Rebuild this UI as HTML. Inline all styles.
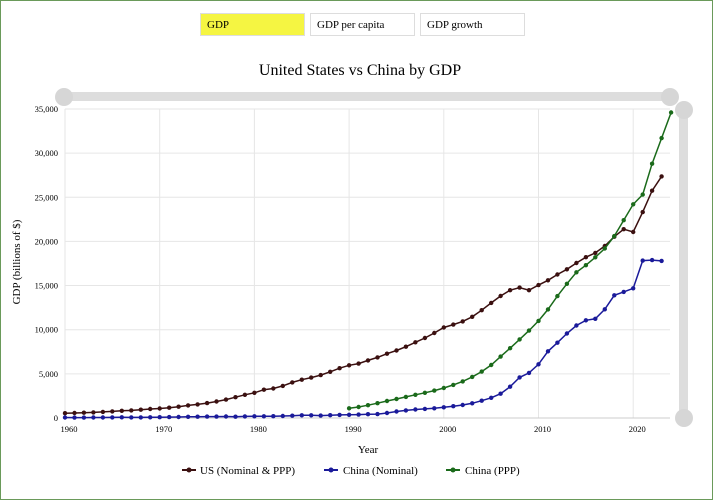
<!DOCTYPE html>
<html><head><meta charset="utf-8"><style>
body{margin:0;background:#fff;}
svg{display:block;font-family:"Liberation Serif",serif;}
</style></head><body>
<svg id="s" width="713" height="500" xmlns="http://www.w3.org/2000/svg">
<rect x="0.5" y="0.5" width="712" height="499" fill="#fff" stroke="#6a9a5a" stroke-width="1"/>
<rect x="200.5" y="13.5" width="104" height="22" fill="#f5f542" stroke="#ddd"/>
<text x="207" y="28" font-size="11">GDP</text>
<rect x="310.5" y="13.5" width="104" height="22" fill="#fff" stroke="#ddd"/>
<text x="317" y="28" font-size="11">GDP per capita</text>
<rect x="420.5" y="13.5" width="104" height="22" fill="#fff" stroke="#ddd"/>
<text x="427" y="28" font-size="11">GDP growth</text>
<text x="360" y="75" font-size="16" text-anchor="middle">United States vs China by GDP</text>
<rect x="62" y="92" width="610" height="9" fill="#ddd"/>
<circle cx="64" cy="97" r="9" fill="#d6d6d6"/>
<circle cx="670" cy="97" r="9" fill="#d6d6d6"/>
<rect x="679" y="105" width="9" height="315" fill="#ddd"/>
<circle cx="684" cy="110" r="9" fill="#d6d6d6"/>
<circle cx="684" cy="418" r="9" fill="#d6d6d6"/>
<text transform="translate(20,262) rotate(-90)" font-size="11" text-anchor="middle">GDP (billions of $)</text>
<text x="368" y="453" font-size="11" text-anchor="middle">Year</text>
<g font-size="11">
<line x1="182" y1="470" x2="196" y2="470" stroke="#3b1010" stroke-width="2"/><circle cx="189" cy="470" r="2.5" fill="#3b1010"/>
<text x="200" y="474">US (Nominal &amp; PPP)</text>
<line x1="324" y1="470" x2="338" y2="470" stroke="#1a1a9a" stroke-width="2"/><circle cx="331" cy="470" r="2.5" fill="#1a1a9a"/>
<text x="343" y="474">China (Nominal)</text>
<line x1="446" y1="470" x2="460" y2="470" stroke="#1a6a1a" stroke-width="2"/><circle cx="453" cy="470" r="2.5" fill="#1a6a1a"/>
<text x="465" y="474">China (PPP)</text>
</g>
<g id="g"></g>
</svg>
<script>
var g=document.getElementById('g'),NS="http://www.w3.org/2000/svg";
function X(y){return 65+(y-1960)*9.47;}
function Y(v){return 418-v*0.00883;}
var h='';
for(var i=0;i<=7;i++){var v=i*5000,y=Y(v);
h+='<line x1="65" x2="670" y1="'+y+'" y2="'+y+'" stroke="#e6e6e6"/>';
h+='<text x="58" y="'+(y+3)+'" font-size="8.5" text-anchor="end">'+(v?v.toLocaleString('en-US'):'0')+'</text>';}
for(var yr=1960;yr<=2020;yr+=10){var x=X(yr);
h+='<line x1="'+x+'" x2="'+x+'" y1="109" y2="418" stroke="#e6e6e6"/>';
h+='<text x="'+(x+4)+'" y="432" font-size="8.5" text-anchor="middle">'+yr+'</text>';}
h+='<line x1="65" x2="670" y1="418" y2="418" stroke="#ccc"/>';
var us=[543,563,605,638,686,743,815,862,943,1019,1073,1165,1279,1425,1545,1684,1873,2082,2352,2627,2857,3207,3343,3634,4037,4339,4579,4855,5236,5641,5963,6158,6520,6858,7287,7640,8073,8578,9063,9631,10251,10582,10936,11458,12214,13037,13815,14475,14770,14478,15049,15600,16254,16843,17551,18206,18695,19477,20533,21381,21060,23315,25744,27361];
var cn=[60,50,47,51,60,70,77,72,70,79,93,100,114,139,144,163,154,175,150,178,191,196,205,231,260,309,301,273,312,348,361,383,427,445,564,734,864,962,1029,1094,1211,1339,1471,1660,1955,2286,2752,3550,4594,5102,6087,7552,8532,9570,10476,11062,11233,12310,13895,14280,14688,17820,17882,17795];
var pp=[1100,1250,1450,1680,1920,2150,2390,2630,2850,3100,3400,3750,4150,4650,5250,6000,6950,7900,8900,9900,11000,12300,13800,15200,16500,17300,18200,19200,20600,22400,24200,25300,28800,31700,34600];
function ser(d,start,c){var p='',cs='';for(var i=0;i<d.length;i++){var x=X(start+i),y=Y(d[i]);p+=(i?'L':'M')+x.toFixed(1)+' '+y.toFixed(1);cs+='<circle cx="'+x.toFixed(1)+'" cy="'+y.toFixed(1)+'" r="2.2" fill="'+c+'"/>';}
return '<path d="'+p+'" fill="none" stroke="'+c+'" stroke-width="1.5"/>'+cs;}
h+=ser(us,1960,'#3b1010')+ser(cn,1960,'#1a1a9a')+ser(pp,1990,'#1a6a1a');
g.innerHTML=h;
</script>
</body></html>
